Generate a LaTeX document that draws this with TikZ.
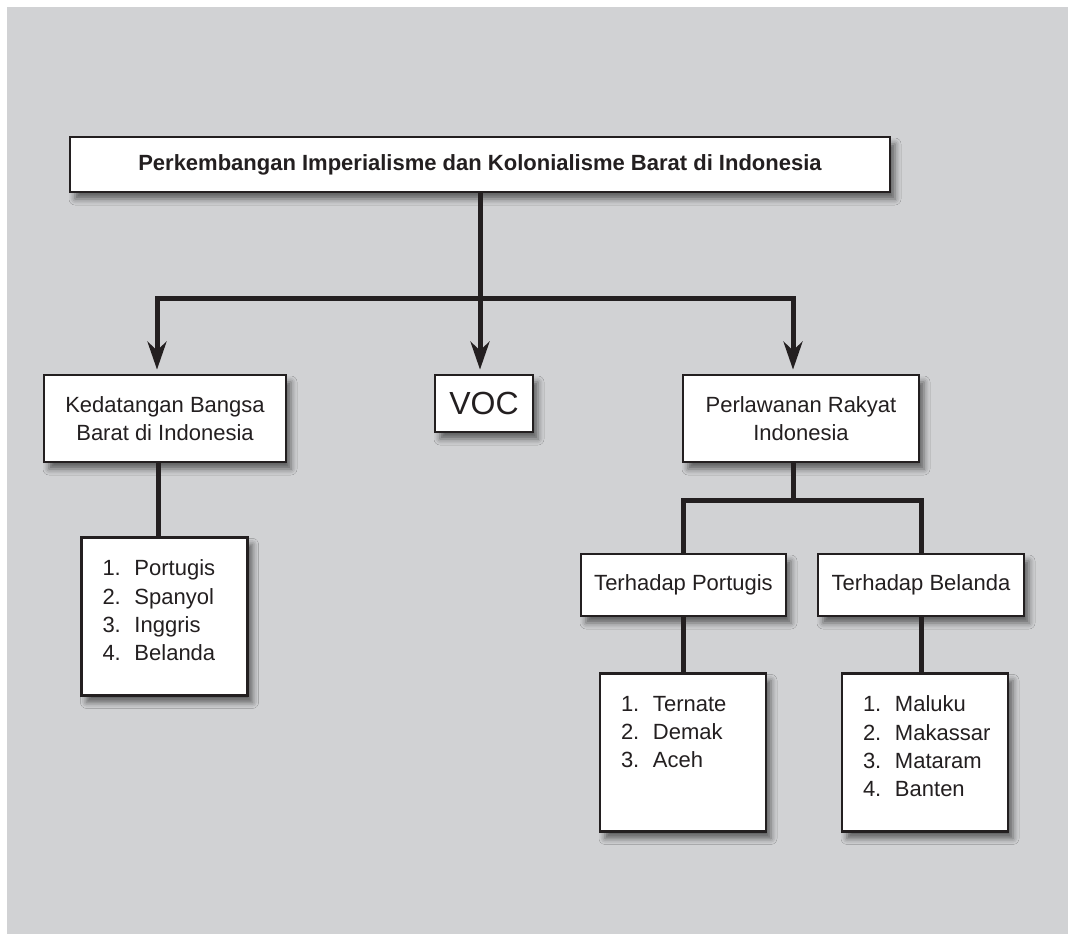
\documentclass[tikz,border=0pt]{standalone}
\usepackage{fontspec}
\setmainfont{Liberation Sans}
\usepackage{tikz}
\usetikzlibrary{arrows.meta,positioning,shadows.blur}
\definecolor{panelgray}{HTML}{D1D2D4}
\definecolor{ink}{HTML}{231F20}
\newcommand{\entry}[2]{\makebox[32pt][l]{#1.}#2}

\begin{document}
\begin{tikzpicture}[x=1pt,y=-1pt,font=\fontsize{22}{28.3}\selectfont,text=ink,
  box/.style={draw=ink,line width=2.8pt,fill=white,inner sep=0pt,
    blur shadow={shadow xshift=5pt,shadow yshift=-7pt,shadow blur radius=6pt,shadow opacity=55}},
  headbox/.style={box,align=center},
  listbox/.style={box,anchor=north,
    execute at begin node={\begin{minipage}[c][158pt][t]{166pt}\leftskip=21pt\vspace*{22.5pt}},
    execute at end node={\end{minipage}}},
  link/.style={draw=ink,line width=5pt},
  tip/.style={-{Stealth[length=28pt,width=19pt,inset=9pt]},shorten >=4pt}]
\useasboundingbox (0,0) rectangle (1068,934);
\fill[panelgray] (7,7) rectangle (1068,934);

\node[box,minimum width=820pt,minimum height=55pt,font=\fontsize{22}{28.3}\selectfont\bfseries] (title) at (480,164.5)
  {Perkembangan Imperialisme dan Kolonialisme Barat di Indonesia};
\node[headbox,minimum width=242pt,minimum height=87pt] (kedatangan) at (165,418.5) {Kedatangan Bangsa\\Barat di Indonesia};
\node[box,minimum width=98pt,minimum height=57pt,font=\fontsize{32}{36}\selectfont] (voc) at (484,403.5) {VOC};
\node[headbox,minimum width=236pt,minimum height=87pt] (perlawanan) at (801,418.5) {Perlawanan Rakyat\\Indonesia};
\node[listbox] (listbarat) at (164.5,536) {\entry{1}{Portugis}\\ \entry{2}{Spanyol}\\ \entry{3}{Inggris}\\ \entry{4}{Belanda}};
\node[box,minimum width=205pt,minimum height=62pt] (portugis) at (683.5,585) {Terhadap Portugis};
\node[box,minimum width=206pt,minimum height=62pt] (belanda) at (921,585) {Terhadap Belanda};
\node[listbox] (listport) at (683,672) {\entry{1}{Ternate}\\ \entry{2}{Demak}\\ \entry{3}{Aceh}};
\node[listbox] (listbel) at (925,672) {\entry{1}{Maluku}\\ \entry{2}{Makassar}\\ \entry{3}{Mataram}\\ \entry{4}{Banten}};

\coordinate (bus) at (481,298);
\coordinate (subbus) at (793,500);
\draw[link,tip] (title.south) -- (title.south |- voc.north);
\draw[link,tip] (bus) -| ([xshift=-8pt]kedatangan.north);
\draw[link,tip] (bus) -| ([xshift=-8pt]perlawanan.north);
\draw[link] ([xshift=-7pt]kedatangan.south) -- ([xshift=-7pt]kedatangan.south |- listbarat.north);
\draw[link] ([xshift=-8pt]perlawanan.south) -- ([xshift=-8pt]perlawanan.south |- subbus);
\draw[link] (portugis.north) |- (subbus) -| (belanda.north);
\draw[link] (portugis.south) -- (portugis.south |- listport.north);
\draw[link] (belanda.south) -- (belanda.south |- listbel.north);
\end{tikzpicture}
\end{document}
